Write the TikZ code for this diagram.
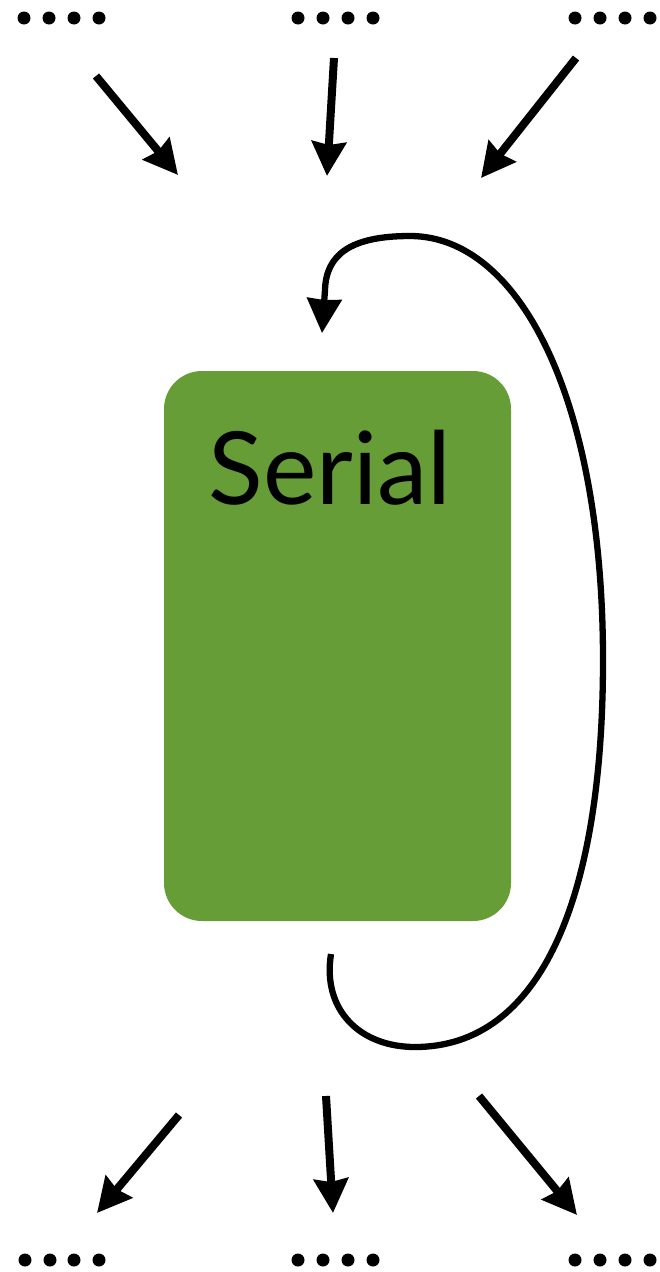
\documentclass[tikz,border=0pt]{standalone}
\usepackage{fontspec}
\setmainfont{Lato}
\usetikzlibrary{arrows.meta}
\definecolor{boxgreen}{RGB}{102,157,55}
\begin{document}
\begin{tikzpicture}[x=1pt,y=-1pt,
  flow/.style={line width=8pt,-{Stealth[length=34pt,width=34pt,inset=3pt]}},
  loopflow/.style={line width=6.3pt,-{Stealth[length=34pt,width=34pt,inset=1pt]}},
  dotmark/.style={fill=black,draw=none},
  serialbox/.style={fill=boxgreen,draw=none,rounded corners=38pt}]
\useasboundingbox (0,0) rectangle (659,1272);
% dots
\foreach \x in {24,49,74,99,298,323,348,373,575,600,625,650}{
  \fill[dotmark] (\x,18) circle (6.5);
}
\foreach \x in {25,50,74,99,298,323,348,373,575,600,625,650}{
  \fill[dotmark] (\x,1260) circle (6.5);
}
% box
\fill[serialbox] (164,371) rectangle (511,921);
\node[anchor=base,font=\fontsize{101}{110}\selectfont,inner sep=0] (serial) at (330,504) {Serial};
% coordinates
\coordinate (a1s) at (96,76);  \coordinate (a1e) at (178,175);
\coordinate (a2s) at (334,58); \coordinate (a2e) at (327,176);
\coordinate (a3s) at (576,58); \coordinate (a3e) at (481,178);
\coordinate (b1s) at (179,1115); \coordinate (b1e) at (97,1213);
\coordinate (b2s) at (326,1096); \coordinate (b2e) at (333,1213);
\coordinate (b3s) at (479,1096); \coordinate (b3e) at (577,1215);
\coordinate (loopstart) at (331,954);
\coordinate (loopend) at (322,333);
\draw[flow] (a1s) -- (a1e);
\draw[flow] (a2s) -- (a2e);
\draw[flow] (a3s) -- (a3e);
\draw[flow] (b1s) -- (b1e);
\draw[flow] (b2s) -- (b2e);
\draw[flow] (b3s) -- (b3e);
\draw[loopflow]
  (loopstart) .. controls (322,1010) and (360,1047) .. (415,1047)
  .. controls (540,1047) and (603,900) .. (603,660)
  .. controls (603,400) and (520,236) .. (410,236)
  .. controls (350,236) and (326,255) .. (325,290) -- (loopend);
\end{tikzpicture}
\end{document}
